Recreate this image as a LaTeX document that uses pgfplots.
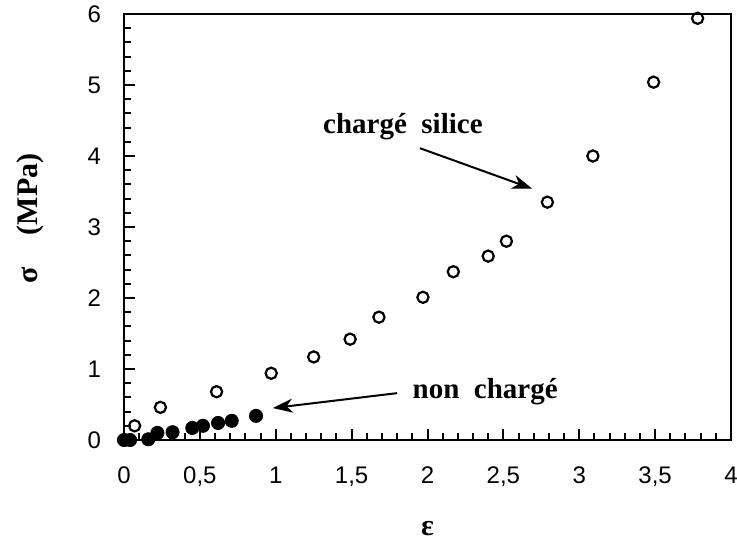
\documentclass[border=0pt]{standalone}
\usepackage{fontspec}
\setmainfont{Liberation Serif}
\setsansfont{Liberation Sans}
\usepackage{pgfplots}
\pgfplotsset{compat=1.18}
\usetikzlibrary{arrows.meta}

\begin{document}
\begin{tikzpicture}
\begin{axis}[
  scale only axis, width=303.5pt, height=213pt,
  xmin=0, xmax=4, ymin=0, ymax=6,
  xtick={0,0.5,1,1.5,2,2.5,3,3.5,4},
  ytick={0,1,2,3,4,5,6},
  minor x tick num=4, minor y tick num=4,
  tick align=inside, xtick pos=bottom, ytick pos=left,
  major tick length=5.5pt, minor tick length=3.5pt,
  axis line style={line width=1.2pt},
  every tick/.style={black, line width=1pt},
  /pgf/number format/use comma,
  /pgf/number format/assume math mode=true,
  tick label style={font=\fontsize{12}{14}\selectfont\sffamily},
  xticklabel style={yshift=-10pt},
  yticklabel style={xshift=-8pt},
  xlabel={\textbf{ε}},
  xlabel style={at={(axis description cs:0.5,-0.209)}, anchor=center, font=\fontsize{15}{17}\selectfont},
  ylabel={\textbf{σ\hspace{16pt}(MPa)}},
  ylabel style={at={(axis description cs:-0.155,0.52)}, anchor=center, font=\fontsize{15}{17}\selectfont},
  clip=false,
]
\addplot[only marks, mark=o, mark size=2.8pt, line width=1.1pt, black] coordinates {
(0.07,0.20) (0.24,0.46) (0.61,0.68) (0.97,0.94) (1.25,1.17) (1.49,1.42)
(1.68,1.73) (1.97,2.01) (2.17,2.37) (2.40,2.59) (2.52,2.80) (2.79,3.35)
(3.09,4.00) (3.49,5.04) (3.78,5.94)
};
\addplot[only marks, mark=*, mark size=3.3pt, black] coordinates {
(0,0) (0.04,0) (0.16,0.01) (0.22,0.10) (0.32,0.11) (0.45,0.17)
(0.52,0.20) (0.62,0.24) (0.71,0.27) (0.87,0.34)
};
\draw[line width=1pt, -{Stealth[length=10pt,width=7pt,inset=3pt]}] (axis cs:1.95,4.11) -- (axis cs:2.69,3.54);
\node[anchor=west, font=\bfseries\fontsize{14.5}{16}\selectfont, inner sep=0pt] at (axis cs:1.31,4.41) {chargé\ \ silice};
\draw[line width=1pt, -{Stealth[length=10pt,width=7pt,inset=3pt]}] (axis cs:1.80,0.66) -- (axis cs:0.98,0.45);
\node[anchor=west, font=\bfseries\fontsize{14.5}{16}\selectfont, inner sep=0pt] at (axis cs:1.90,0.68) {non\ \ chargé};
\coordinate (O) at (rel axis cs:0,0);
\end{axis}
\pgfresetboundingbox
\path (O) ++(-62pt,-50.5pt) rectangle ++(368.5pt,270.5pt);
\end{tikzpicture}
\end{document}
